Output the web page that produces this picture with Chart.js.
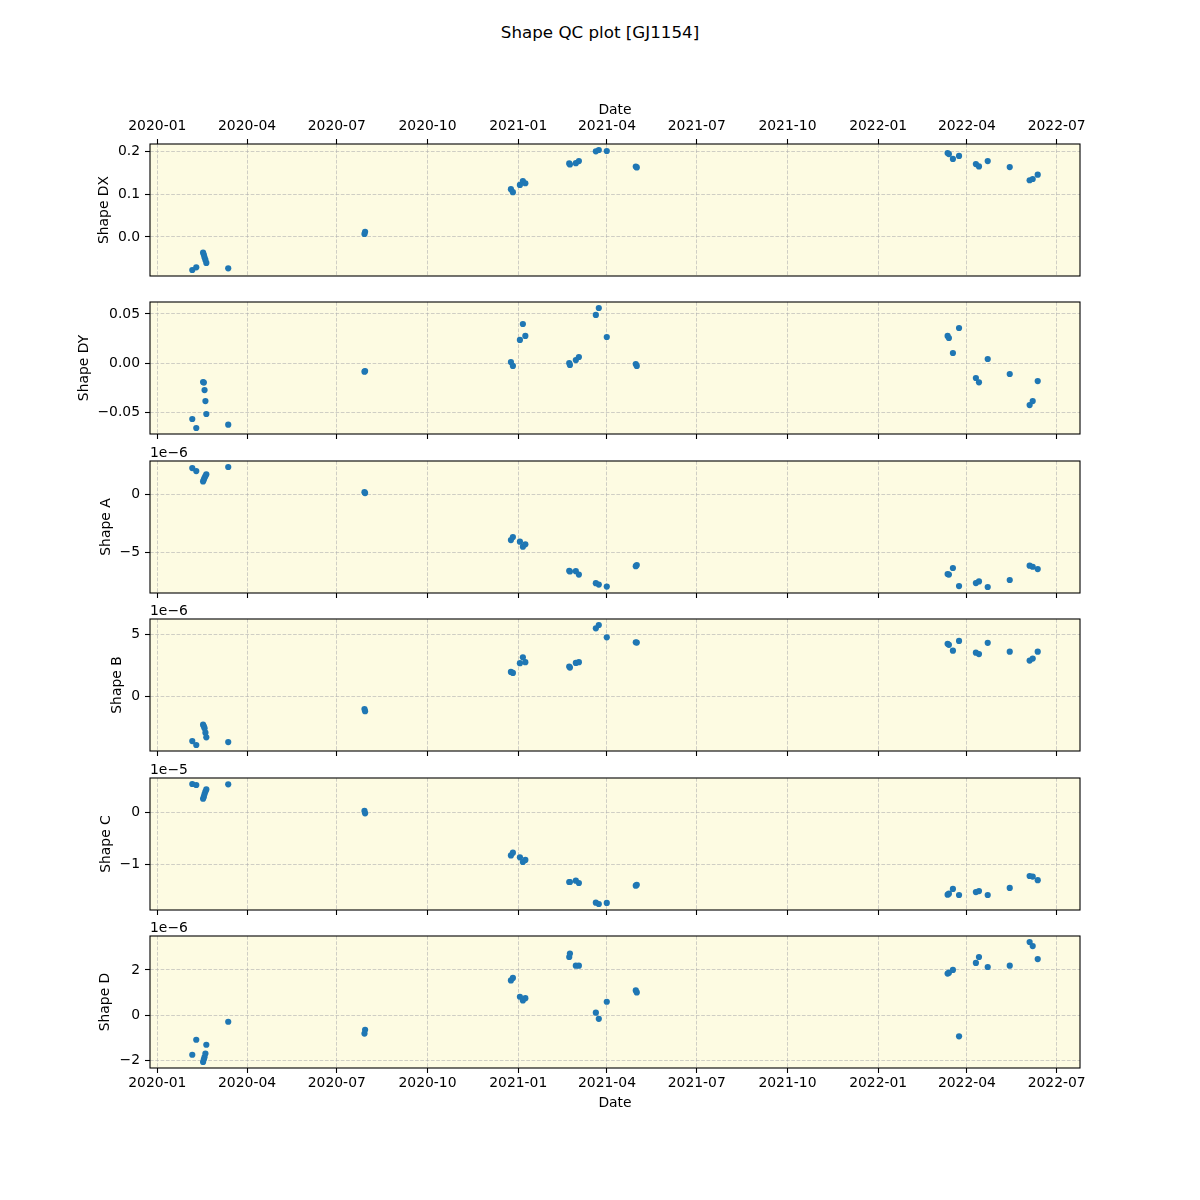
<!DOCTYPE html>
<html><head><meta charset="utf-8">
<script src="https://cdn.jsdelivr.net/npm/chart.js@4.4.0/dist/chart.umd.min.js"></script>
<style>
html,body{margin:0;padding:0;background:#fff;}
#fig{position:relative;width:1200px;height:1200px;background:#fff;overflow:hidden;font-family:'DejaVu Sans',sans-serif;}
#fig canvas{position:absolute;left:0;}
#title{position:absolute;left:0;width:1200px;top:22px;text-align:center;font-size:16.7px;line-height:20px;color:#000;}
</style></head><body>
<div id="fig"><div id="title">Shape QC plot [GJ1154]</div></div>
<script>
// ---- data ----
const obsDates = [
 '2020-02-05T11:00','2020-02-09T12:00','2020-02-16T10:00','2020-02-17T05:00','2020-02-17T22:00','2020-02-18T19:00','2020-02-19T17:00','2020-03-12T22:00',
 '2020-07-29T02:00','2020-07-29T17:00',
 '2020-12-24T14:00','2020-12-26T14:00','2021-01-02T17:00','2021-01-05T17:00','2021-01-08T05:00',
 '2021-02-21T17:00','2021-02-22T10:00','2021-02-28T10:00','2021-03-03T12:00',
 '2021-03-20T17:00','2021-03-23T17:00','2021-03-31T19:00',
 '2021-04-30T05:00','2021-05-01T05:00',
 '2022-03-12T10:00','2022-03-13T17:00','2022-03-17T19:00','2022-03-24T00:00',
 '2022-04-10T02:00','2022-04-13T05:00','2022-04-22T02:00','2022-05-14T10:00',
 '2022-06-03T14:00','2022-06-06T17:00','2022-06-11T19:00'
];
const shapeDX = [-0.0776,-0.0714,-0.037,-0.042,-0.048,-0.054,-0.061,-0.0737,
 0.007,0.012,
 0.112,0.105,0.122,0.131,0.126,
 0.1725,0.170,0.173,0.178,
 0.2008,0.204,0.2016,
 0.165,0.163,
 0.197,0.1945,0.183,0.190,
 0.171,0.1655,0.178,0.164,
 0.133,0.136,0.146];
const shapeDY = [-0.0571,-0.0663,-0.0194,-0.0200,-0.0276,-0.0388,-0.052,-0.0629,
 -0.0088,-0.0082,
 0.001,-0.003,0.0235,0.0398,0.0276,
 0.0,-0.002,0.003,0.0061,
 0.049,0.0561,0.0265,
 -0.001,-0.003,
 0.0276,0.0255,0.0102,0.0357,
 -0.0153,-0.0197,0.0041,-0.0112,
 -0.0429,-0.0388,-0.0184];
const shapeA = [2.24e-6,1.98e-6,1.09e-6,1.25e-6,1.40e-6,1.55e-6,1.70e-6,2.33e-6,
 0.17e-6,0.09e-6,
 -3.94e-6,-3.68e-6,-4.08e-6,-4.51e-6,-4.31e-6,
 -6.58e-6,-6.64e-6,-6.61e-6,-6.90e-6,
 -7.64e-6,-7.76e-6,-7.93e-6,
 -6.18e-6,-6.09e-6,
 -6.86e-6,-6.90e-6,-6.34e-6,-7.89e-6,
 -7.63e-6,-7.49e-6,-7.97e-6,-7.37e-6,
 -6.14e-6,-6.23e-6,-6.43e-6];
const shapeB = [-3.65e-6,-3.97e-6,-2.32e-6,-2.45e-6,-2.60e-6,-2.97e-6,-3.35e-6,-3.73e-6,
 -1.05e-6,-1.22e-6,
 1.97e-6,1.89e-6,2.68e-6,3.16e-6,2.76e-6,
 2.41e-6,2.32e-6,2.70e-6,2.76e-6,
 5.51e-6,5.78e-6,4.78e-6,
 4.38e-6,4.35e-6,
 4.25e-6,4.17e-6,3.69e-6,4.49e-6,
 3.53e-6,3.42e-6,4.33e-6,3.61e-6,
 2.89e-6,3.05e-6,3.61e-6];
const shapeC = [0.545e-5,0.526e-5,0.26e-5,0.30e-5,0.35e-5,0.40e-5,0.44e-5,0.538e-5,
 0.026e-5,-0.02e-5,
 -0.833e-5,-0.78e-5,-0.87e-5,-0.96e-5,-0.92e-5,
 -1.346e-5,-1.346e-5,-1.32e-5,-1.365e-5,
 -1.744e-5,-1.77e-5,-1.75e-5,
 -1.417e-5,-1.40e-5,
 -1.59e-5,-1.57e-5,-1.48e-5,-1.596e-5,
 -1.54e-5,-1.52e-5,-1.596e-5,-1.46e-5,
 -1.23e-5,-1.24e-5,-1.31e-5];
const shapeD = [-1.73e-6,-1.07e-6,-2.05e-6,-1.93e-6,-1.83e-6,-1.68e-6,-1.29e-6,-0.28e-6,
 -0.80e-6,-0.63e-6,
 1.54e-6,1.65e-6,0.82e-6,0.66e-6,0.76e-6,
 2.57e-6,2.72e-6,2.19e-6,2.19e-6,
 0.12e-6,-0.15e-6,0.60e-6,
 1.10e-6,1.01e-6,
 1.84e-6,1.88e-6,2.00e-6,-0.92e-6,
 2.31e-6,2.57e-6,2.13e-6,2.19e-6,
 3.23e-6,3.05e-6,2.48e-6];

const xTickDates = ['2020-01-01','2020-04-01','2020-07-01','2020-10-01','2021-01-01','2021-04-01','2021-07-01','2021-10-01','2022-01-01','2022-04-01','2022-07-01'];
const xTickLabels = ['2020-01','2020-04','2020-07','2020-10','2021-01','2021-04','2021-07','2021-10','2022-01','2022-04','2022-07'];

const dxTicks = [0, 0.1, 0.2];          const dxTickLabels = ['0.0','0.1','0.2'];
const dyTicks = [-0.05, 0, 0.05];       const dyTickLabels = ['\u22120.05','0.00','0.05'];
const aTicks = [-5e-6, 0];              const aTickLabels = ['\u22125','0'];
const bTicks = [0, 5e-6];               const bTickLabels = ['0','5'];
const cTicks = [-1e-5, 0];              const cTickLabels = ['\u22121','0'];
const dTicks = [-2e-6, 0, 2e-6];        const dTickLabels = ['\u22122','0','2'];

// ---- helpers ----
const DAY0 = Date.UTC(2020,0,1);
const toDays = s => (Date.parse(s.length > 10 ? s + ':00Z' : s + 'T00:00:00Z') - DAY0) / 86400000;
const xs = obsDates.map(toDays);
const xTickVals = xTickDates.map(toDays);
function padRange(arr){ const mn = Math.min(...arr), mx = Math.max(...arr), r = mx - mn; return [mn - 0.05*r, mx + 0.05*r]; }
const [xMin, xMax] = padRange(xs);

Chart.defaults.font.family = "'DejaVu Sans', sans-serif";
Chart.defaults.font.size = 13.9;
Chart.defaults.color = '#000';

const BG = '#fdfbe2';
const GRID = 'rgba(176,176,176,0.6)';
const FONT = "13.9px 'DejaVu Sans', sans-serif";

const framePlugin = {
  id: 'frame',
  beforeDraw(chart, args, opts){
    const {ctx, chartArea:a} = chart;
    ctx.save(); ctx.fillStyle = BG; ctx.fillRect(a.left, a.top, a.right-a.left, a.bottom-a.top); ctx.restore();
  },
  afterDraw(chart, args, opts){
    const {ctx, chartArea:a} = chart;
    ctx.save();
    ctx.strokeStyle = '#000'; ctx.lineWidth = 1.1;
    ctx.strokeRect(a.left, a.top, a.right-a.left, a.bottom-a.top);
    if (opts.offsetText){
      ctx.fillStyle = '#000'; ctx.font = FONT; ctx.textAlign = 'left'; ctx.textBaseline = 'alphabetic';
      ctx.fillText(opts.offsetText, a.left, a.top - 4);
    }
    ctx.restore();
  }
};

const panels = [
  {values: shapeDX, ticks: dxTicks, labels: dxTickLabels, title: 'Shape DX', titleX: 104, offset: null},
  {values: shapeDY, ticks: dyTicks, labels: dyTickLabels, title: 'Shape DY', titleX: 84,  offset: null},
  {values: shapeA,  ticks: aTicks,  labels: aTickLabels,  title: 'Shape A',  titleX: 106, offset: '1e\u22126'},
  {values: shapeB,  ticks: bTicks,  labels: bTickLabels,  title: 'Shape B',  titleX: 117, offset: '1e\u22126'},
  {values: shapeC,  ticks: cTicks,  labels: cTickLabels,  title: 'Shape C',  titleX: 106, offset: '1e\u22125'},
  {values: shapeD,  ticks: dTicks,  labels: dTickLabels,  title: 'Shape D',  titleX: 105, offset: '1e\u22126'}
];
const panelTops = [144, 302, 461, 619, 778, 936];
const PH = 132;
const fig = document.getElementById('fig');

panels.forEach((p, i) => {
  const first = i === 0, last = i === panels.length - 1;
  let canvasTop, xH, padTop, padBottom;
  if (first){ canvasTop = panelTops[i] - 64; xH = 64; padTop = 0; padBottom = 20; }
  else { canvasTop = panelTops[i] - 25; xH = last ? 50 : 12; padTop = 25; padBottom = 5; }
  const canvasH = padTop + PH + xH + padBottom;
  const cv = document.createElement('canvas');
  cv.width = 1200; cv.height = canvasH;
  cv.style.top = canvasTop + 'px'; cv.style.width = '1200px'; cv.style.height = canvasH + 'px';
  fig.appendChild(cv);
  const [yMin, yMax] = padRange(p.values);
  let xTitle = {display: false};
  if (first) xTitle = {display: true, text: 'Date', padding: {top: 21.7, bottom: 0}};
  if (last) xTitle = {display: true, text: 'Date', padding: {top: 0, bottom: 6.7}};
  new Chart(cv, {
    type: 'scatter',
    data: { datasets: [{
      data: xs.map((x, k) => ({x: x, y: p.values[k]})),
      backgroundColor: '#1f77b4', borderColor: '#1f77b4', borderWidth: 0,
      pointRadius: 3.1, pointHoverRadius: 3.1
    }]},
    options: {
      responsive: false, animation: false, events: [],
      layout: {padding: {left: 0, right: 120, top: padTop, bottom: padBottom}},
      plugins: {legend: {display: false}, tooltip: {enabled: false}, frame: {offsetText: p.offset}},
      scales: {
        x: {
          type: 'linear', position: first ? 'top' : 'bottom', min: xMin, max: xMax,
          afterBuildTicks: ax => { ax.ticks = xTickVals.map(v => ({value: v})); },
          afterFit: sc => { sc.height = xH; },
          ticks: {display: first || last, autoSkip: false, maxRotation: 0, minRotation: 0,
                  padding: first ? 4.5 : 2, callback: (v, idx) => xTickLabels[idx]},
          grid: {color: GRID, lineWidth: 1, drawTicks: true, tickLength: 5, tickColor: '#000', tickWidth: 1.1},
          border: {display: false, dash: [3.7, 1.6]},
          title: xTitle
        },
        y: {
          type: 'linear', position: 'left', min: yMin, max: yMax,
          afterBuildTicks: ax => { ax.ticks = p.ticks.map(v => ({value: v})); },
          afterFit: sc => { sc.width = 150; },
          ticks: {padding: 5, callback: (v, idx) => p.labels[idx]},
          grid: {color: GRID, lineWidth: 1, drawTicks: true, tickLength: 5, tickColor: '#000', tickWidth: 1.1},
          border: {display: false, dash: [3.7, 1.6]},
          title: {display: true, text: p.title, padding: {top: p.titleX - 8.34, bottom: 0}}
        }
      }
    },
    plugins: [framePlugin]
  });
});
</script>
</body></html>
